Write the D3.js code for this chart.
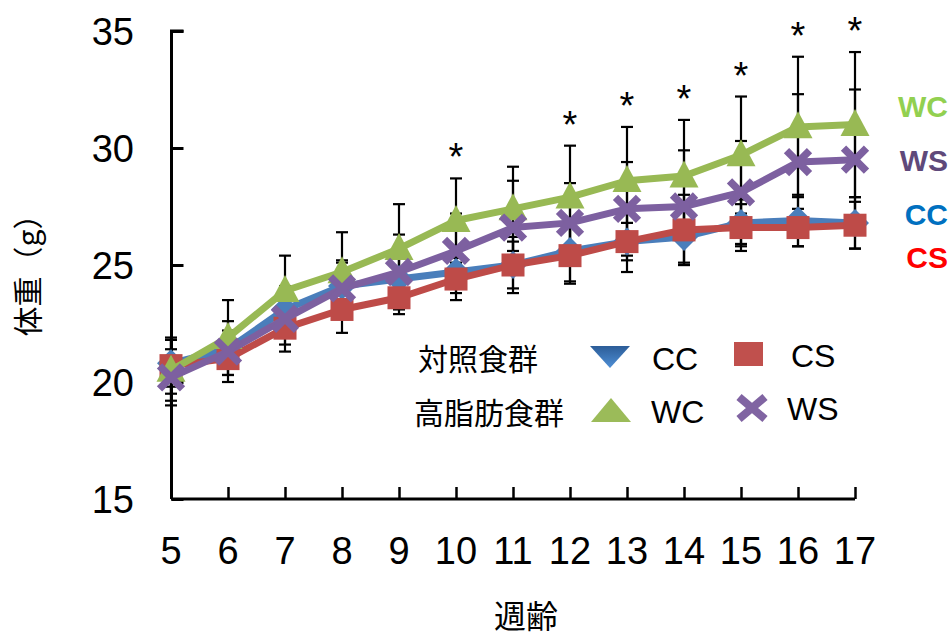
<!DOCTYPE html>
<html>
<head>
<meta charset="utf-8">
<script src="https://cdn.jsdelivr.net/npm/d3@7"></script>
<style>
  html, body { margin: 0; padding: 0; background: #fff; }
  svg { display: block; }
</style>
</head>
<body>
<svg id="chart" width="951" height="639"></svg>
<script>
// Body weight by age (weeks) for four diet groups, mean ± SD
const weeks = [5, 6, 7, 8, 9, 10, 11, 12, 13, 14, 15, 16, 17];
const yTicks = [15, 20, 25, 30, 35];

const ccMean = [20.8, 21.4, 23.1, 24.1, 24.4, 24.7, 25.0, 25.6, 26.0, 26.2, 26.8, 26.9, 26.8];
const csMean = [20.7, 21.0, 22.3, 23.1, 23.6, 24.4, 25.0, 25.4, 26.0, 26.5, 26.6, 26.6, 26.7];
const wcMean = [20.5, 21.9, 23.9, 24.7, 25.7, 26.9, 27.4, 27.9, 28.6, 28.8, 29.7, 30.9, 31.0];
const wsMean = [20.2, 21.3, 22.7, 24.0, 24.7, 25.6, 26.6, 26.8, 27.4, 27.5, 28.1, 29.4, 29.5];

const ccSd = [1.0, 0.8, 1.0, 1.0, 0.9, 0.9, 1.0, 1.3, 0.8, 1.2, 1.0, 1.1, 1.1];
const csSd = [1.2, 0.7, 1.0, 1.0, 0.7, 0.9, 1.2, 1.2, 1.3, 1.5, 1.0, 0.8, 1.0];
const wcSd = [1.3, 1.6, 1.5, 1.7, 1.9, 1.8, 1.8, 2.2, 2.3, 2.4, 2.5, 3.0, 3.1];
const wsSd = [1.2, 1.3, 1.1, 1.2, 1.6, 1.6, 2.0, 1.7, 2.0, 2.4, 2.2, 2.9, 3.0];

// weeks with a significant difference (marked with *)
const sigWeeks = [10, 12, 13, 14, 15, 16, 17];

const groupNames = ["CC", "CS", "WC", "WS"];
const rowLabels = ["対照食群", "高脂肪食群"];

const series = [
  { name: "CC", mean: ccMean, sd: ccSd, color: "#4a7ebb", marker: "diamond", labelColor: "#0070c0" },
  { name: "CS", mean: csMean, sd: csSd, color: "#be4b48", marker: "square",  labelColor: "#ff0000" },
  { name: "WC", mean: wcMean, sd: wcSd, color: "#98b954", marker: "triangle", labelColor: "#92d050" },
  { name: "WS", mean: wsMean, sd: wsSd, color: "#7d60a0", marker: "cross",   labelColor: "#5f497a" }
];

const LATIN = "'Liberation Sans', Arial, sans-serif";
const CJK = "'Noto Sans CJK JP', 'Noto Sans', sans-serif";

const svg = d3.select("#chart");

const x = d3.scaleLinear().domain([5, 17]).range([171, 855]);
const y = d3.scaleLinear().domain([15, 35]).range([499, 31]);

// ---- axes ----
const yAxis = d3.axisRight(y).tickValues(yTicks).tickSize(12).tickFormat("");
svg.append("g")
  .attr("transform", "translate(171.5,0)")
  .call(yAxis)
  .call(g => g.select(".domain").attr("stroke", "#000").attr("stroke-width", 3).attr("d", `M12,${y(35)}H0V${y(15)}`))
  .call(g => g.selectAll(".tick line").attr("stroke", "#000").attr("stroke-width", 3));

const xAxis = d3.axisTop(x).tickValues(weeks).tickSize(12).tickFormat("");
svg.append("g")
  .attr("transform", "translate(0,499)")
  .call(xAxis)
  .call(g => g.select(".domain").attr("stroke", "#000").attr("stroke-width", 3).attr("d", `M${x(5)},0H${x(17)}`))
  .call(g => g.selectAll(".tick line").attr("stroke", "#000").attr("stroke-width", 2.5));

// tick labels
svg.append("g").selectAll("text").data(yTicks).join("text")
  .attr("x", 134).attr("y", d => y(d)).attr("dy", "0.36em")
  .attr("text-anchor", "end")
  .attr("font-family", LATIN).attr("font-size", 38).attr("fill", "#000")
  .text(d => d);

svg.append("g").selectAll("text").data(weeks).join("text")
  .attr("x", d => x(d)).attr("y", 564)
  .attr("text-anchor", "middle")
  .attr("font-family", LATIN).attr("font-size", 38).attr("fill", "#000")
  .text(d => d);

// axis titles
svg.append("text")
  .attr("transform", "translate(39,268) rotate(-90)")
  .attr("text-anchor", "middle")
  .attr("font-family", CJK).attr("font-size", 30).attr("fill", "#000")
  .text("体重（g）");

svg.append("text")
  .attr("x", 526).attr("y", 628)
  .attr("text-anchor", "middle")
  .attr("font-family", CJK).attr("font-size", 32).attr("fill", "#000")
  .text("週齢");

// ---- error bars ----
const errG = svg.append("g");
series.forEach(s => {
  weeks.forEach((w, i) => {
    const top = y(s.mean[i] + s.sd[i]);
    const bot = y(s.mean[i] - s.sd[i]);
    const cx = x(w);
    errG.append("line").attr("x1", cx).attr("x2", cx).attr("y1", top).attr("y2", bot)
      .attr("stroke", "#000").attr("stroke-width", 2.2);
    [top, bot].forEach(v => errG.append("line")
      .attr("x1", cx - 6).attr("x2", cx + 6).attr("y1", v).attr("y2", v)
      .attr("stroke", "#000").attr("stroke-width", 2.2));
  });
});

// ---- marker shapes ----
function drawMarker(g, type, cx, cy, color, scale = 1) {
  if (type === "diamond") {
    const r = 14 * scale;
    g.append("path").attr("d", `M${cx},${cy - r}L${cx + r},${cy}L${cx},${cy + r}L${cx - r},${cy}Z`).attr("fill", color);
  } else if (type === "square") {
    const h = 11.5 * scale;
    g.append("rect").attr("x", cx - h).attr("y", cy - h).attr("width", 2 * h).attr("height", 2 * h).attr("fill", color);
  } else if (type === "triangle") {
    const w = 14.5 * scale, h = 27 * scale;
    g.append("path").attr("d", `M${cx},${cy - h * 0.58}L${cx + w},${cy + h * 0.42}L${cx - w},${cy + h * 0.42}Z`).attr("fill", color);
  } else if (type === "cross") {
    const r = 11.5 * scale;
    g.append("path").attr("d", `M${cx - r},${cy - r}L${cx + r},${cy + r}M${cx + r},${cy - r}L${cx - r},${cy + r}`)
      .attr("stroke", color).attr("stroke-width", 7.5 * scale).attr("stroke-linecap", "butt").attr("fill", "none");
  }
}

// ---- series lines and markers ----
const line = d3.line().x(d => x(d[0])).y(d => y(d[1]));
series.forEach(s => {
  const g = svg.append("g");
  const pts = weeks.map((w, i) => [w, s.mean[i]]);
  g.append("path").attr("d", line(pts)).attr("fill", "none")
    .attr("stroke", s.color).attr("stroke-width", 7).attr("stroke-linejoin", "round");
  pts.forEach(p => drawMarker(g, s.marker, x(p[0]), y(p[1]), s.color));
});

// ---- significance asterisks ----
svg.append("g").selectAll("text").data(sigWeeks).join("text")
  .attr("x", d => x(d))
  .attr("y", d => { const i = weeks.indexOf(d); return y(wcMean[i] + wcSd[i]) - 8; })
  .attr("text-anchor", "middle")
  .attr("font-family", LATIN).attr("font-size", 38).attr("fill", "#000")
  .text("*");

// ---- group labels on the right ----
const endY = { WC: 106, WS: 160, CC: 214, CS: 257 };
svg.append("g").selectAll("text").data(series).join("text")
  .attr("x", 948).attr("y", d => endY[d.name]).attr("dy", "0.36em")
  .attr("text-anchor", "end")
  .attr("font-family", LATIN).attr("font-weight", "bold").attr("font-size", 30)
  .attr("fill", d => d.labelColor)
  .text(d => d.name);

// ---- legend ----
const defs = svg.append("defs");
const grad = defs.append("linearGradient").attr("id", "ccGrad").attr("x1", 0).attr("y1", 0).attr("x2", 0).attr("y2", 1);
grad.append("stop").attr("offset", "0%").attr("stop-color", "#2c5d98");
grad.append("stop").attr("offset", "100%").attr("stop-color", "#4f8fd6");

const leg = svg.append("g");
leg.append("text").attr("x", 418).attr("y", 359).attr("dy", "0.36em")
  .attr("font-family", CJK).attr("font-size", 30).attr("fill", "#000").text(rowLabels[0]);
leg.append("text").attr("x", 414).attr("y", 413).attr("dy", "0.36em")
  .attr("font-family", CJK).attr("font-size", 30).attr("fill", "#000").text(rowLabels[1]);

// CC: inverted triangle
leg.append("path").attr("d", "M590,346L630,346L610,368Z").attr("fill", "url(#ccGrad)");
// CS: square
leg.append("rect").attr("x", 734).attr("y", 342).attr("width", 29).attr("height", 24).attr("fill", "#c0504d");
// WC: triangle
leg.append("path").attr("d", "M611,398L631,422L591,422Z").attr("fill", "#9bbb59");
// WS: cross
leg.append("path").attr("d", "M739,397L765,419M765,397L739,419")
  .attr("stroke", "#8064a2").attr("stroke-width", 8).attr("fill", "none");

const legText = [
  { t: groupNames[0], x: 652, y: 358 },
  { t: groupNames[1], x: 791, y: 355 },
  { t: groupNames[2], x: 651, y: 411 },
  { t: groupNames[3], x: 787, y: 408 }
];
leg.selectAll("text.g").data(legText).join("text").attr("class", "g")
  .attr("x", d => d.x).attr("y", d => d.y).attr("dy", "0.36em")
  .attr("font-family", LATIN).attr("font-size", 32).attr("fill", "#000")
  .text(d => d.t);
</script>
</body>
</html>
